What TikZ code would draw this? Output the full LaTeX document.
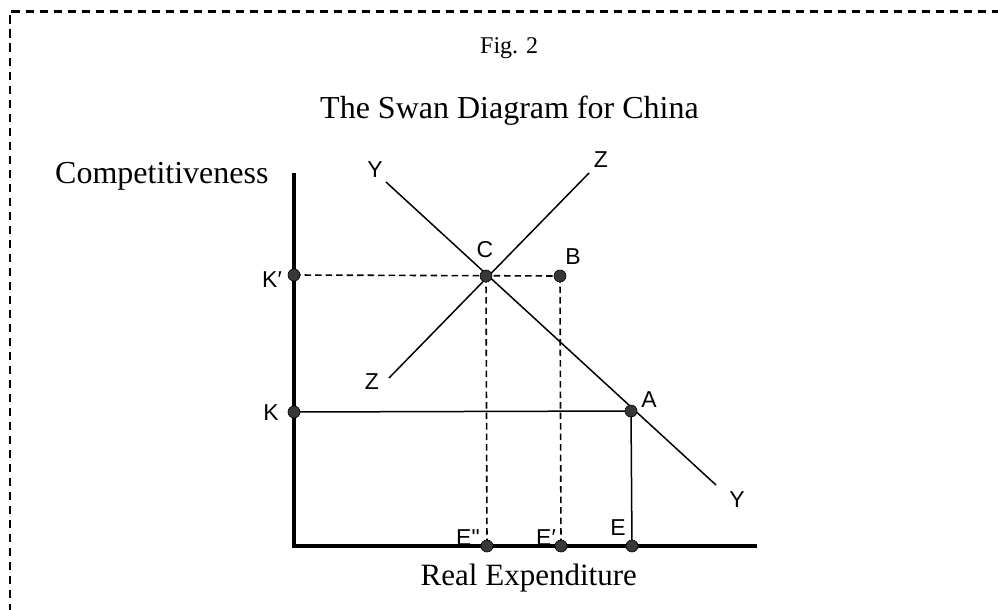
\documentclass[tikz,border=0pt]{standalone}
\usepackage{fontspec}
\setmainfont{Liberation Serif}
\newfontfamily\lab{Liberation Sans}
\begin{document}
\begin{tikzpicture}[x=1pt,y=-1pt,
  frame/.style={line width=2.4pt,dash pattern=on 8.5pt off 5.5pt},
  axis/.style={line width=4pt},
  thin/.style={line width=1.5pt},
  dsh/.style={line width=1.6pt,dash pattern=on 6.5pt off 4pt},
  dot/.style={circle,fill=black!78,draw=black,line width=0.6pt,inner sep=0pt,minimum size=12pt},
  plab/.style={font=\lab\fontsize{23}{25}\selectfont,inner sep=0pt},
  serif/.style={inner sep=0pt}]
\useasboundingbox (0,0) rectangle (998,610);
\draw[frame] (10,612) -- (10,11.5) -- (1000,11.5);
% coordinates
\coordinate (Kp) at (294,275);
\coordinate (K) at (294,412);
\coordinate (C) at (486,276);
\coordinate (B) at (560,276);
\coordinate (A) at (631,411);
\coordinate (Epp) at (487,546);
\coordinate (Ep) at (561,546);
\coordinate (E) at (632,546);
\coordinate (O) at (294,546);
\coordinate (ytop) at (294,173);
\coordinate (xend) at (757,546);
\coordinate (Y1) at (386,182);
\coordinate (Y2) at (716,485);
\coordinate (Z1) at (389,378);
\coordinate (Z2) at (589,173);
% point labels
\node[plab] (lKp) at (272,280) {K′};
\node[plab] (lK) at (271,413) {K};
\node[plab] (lC) at (485,250) {C};
\node[plab] (lB) at (573,257) {B};
\node[plab] (lA) at (649,400) {A};
\node[plab] (lZ2) at (601,160) {Z};
\node[plab] (lY1) at (375,170) {Y};
\node[plab] (lZ1) at (372,382) {Z};
\node[plab] (lY2) at (737,500) {Y};
\node[plab,anchor=base west] (lEpp) at (456,545) {E"};
\node[plab,anchor=base west] (lEp) at (536,545) {E′};
\node[plab] (lE) at (618,528) {E};
% lines
\draw[thin] (Y1) -- (Y2);
\draw[thin] (Z1) -- (Z2);
\draw[dsh] (Kp) -- (B);
\draw[dsh] (C) -- (Epp);
\draw[dsh] (B) -- (Ep);
\draw[thin] (K) -- (A) -- (E);
\draw[axis] (ytop) -- (O) -- (xend);
% dots
\foreach \p in {Kp,K,C,B,A,Epp,Ep,E} \node[dot] (d\p) at (\p) {};
% texts
\node[serif,anchor=base west,font=\fontsize{24}{28}\selectfont] (fig) at (480,54) {Fig. 2};
\node[serif,anchor=base west,font=\fontsize{32}{36}\selectfont] (title) at (320,118) {The Swan Diagram for China};
\node[serif,anchor=base west,font=\fontsize{32}{36}\selectfont] (comp) at (55,183) {Competitiveness};
\node[serif,anchor=base east,font=\fontsize{31}{35}\selectfont] (real) at (637,585) {Real Expenditure};
\end{tikzpicture}
\end{document}
